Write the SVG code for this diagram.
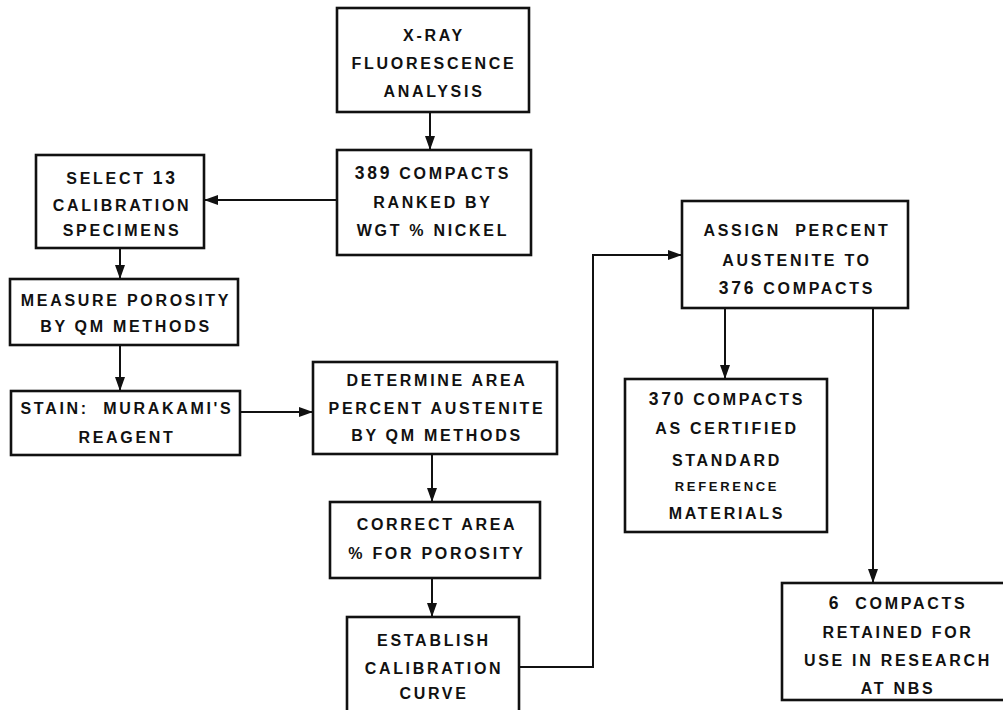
<svg xmlns="http://www.w3.org/2000/svg" width="1003" height="710" viewBox="0 0 1003 710">
<style>
.box{fill:#fff;stroke:#111;stroke-width:2.6}
.ln{fill:none;stroke:#111;stroke-width:2}
text{font-family:"Liberation Sans",Arial,sans-serif;font-size:16px;font-weight:bold;fill:#111;text-anchor:middle;letter-spacing:2.7px}
.n{font-size:17.5px}
.s{font-size:13px}
</style>
<defs>
<marker id="ah" markerWidth="14" markerHeight="10" refX="14" refY="5" orient="auto" markerUnits="userSpaceOnUse">
<path d="M0,0 L14,5 L0,10 Z" fill="#111"/>
</marker>
</defs>
<rect width="1003" height="710" fill="#fff"/>
<g id="connectors">
<line class="ln" x1="430" y1="112" x2="430" y2="150" marker-end="url(#ah)"/>
<line class="ln" x1="337" y1="200" x2="204" y2="200" marker-end="url(#ah)"/>
<line class="ln" x1="120" y1="248" x2="120" y2="279" marker-end="url(#ah)"/>
<line class="ln" x1="120" y1="345" x2="120" y2="391" marker-end="url(#ah)"/>
<line class="ln" x1="240" y1="412" x2="313" y2="412" marker-end="url(#ah)"/>
<line class="ln" x1="432" y1="454" x2="432" y2="502" marker-end="url(#ah)"/>
<line class="ln" x1="432" y1="578" x2="432" y2="617" marker-end="url(#ah)"/>
<polyline class="ln" points="519,667 593,667 593,255 682,255" marker-end="url(#ah)"/>
<line class="ln" x1="725" y1="308" x2="725" y2="379" marker-end="url(#ah)"/>
<line class="ln" x1="873" y1="308" x2="873" y2="583" marker-end="url(#ah)"/>
</g>
<g id="xray">
<rect class="box" x="337" y="8" width="192" height="104"/>
<text x="434" y="41">X-RAY</text>
<text x="434" y="69">FLUORESCENCE</text>
<text x="434" y="97">ANALYSIS</text>
</g>
<g id="ranked">
<rect class="box" x="337" y="150" width="194" height="105"/>
<text x="433" y="179"><tspan class="n">389</tspan> COMPACTS</text>
<text x="433" y="208">RANKED BY</text>
<text x="433" y="236">WGT % NICKEL</text>
</g>
<g id="select">
<rect class="box" x="36" y="155" width="168" height="93"/>
<text x="122" y="184">SELECT <tspan class="n">13</tspan></text>
<text x="122" y="211">CALIBRATION</text>
<text x="122" y="236">SPECIMENS</text>
</g>
<g id="measure">
<rect class="box" x="10" y="279" width="228" height="66"/>
<text x="126" y="306">MEASURE POROSITY</text>
<text x="126" y="332">BY QM METHODS</text>
</g>
<g id="stain">
<rect class="box" x="11" y="391" width="229" height="64"/>
<text x="127" y="414" xml:space="preserve">STAIN:  MURAKAMI'S</text>
<text x="127" y="443">REAGENT</text>
</g>
<g id="determine">
<rect class="box" x="313" y="362" width="244" height="92"/>
<text x="437" y="386">DETERMINE AREA</text>
<text x="437" y="414">PERCENT AUSTENITE</text>
<text x="437" y="441">BY QM METHODS</text>
</g>
<g id="correct">
<rect class="box" x="330" y="502" width="210" height="76"/>
<text x="437" y="530">CORRECT AREA</text>
<text x="437" y="559">% FOR POROSITY</text>
</g>
<g id="establish">
<rect class="box" x="347" y="617" width="172" height="100"/>
<text x="434" y="646">ESTABLISH</text>
<text x="434" y="674">CALIBRATION</text>
<text x="434" y="699">CURVE</text>
</g>
<g id="assign">
<rect class="box" x="682" y="201" width="226" height="107"/>
<text x="797" y="236" xml:space="preserve">ASSIGN  PERCENT</text>
<text x="797" y="266">AUSTENITE TO</text>
<text x="797" y="294"><tspan class="n">376</tspan> COMPACTS</text>
</g>
<g id="certified">
<rect class="box" x="625" y="379" width="202" height="153"/>
<text x="727" y="405"><tspan class="n">370</tspan> COMPACTS</text>
<text x="727" y="434">AS CERTIFIED</text>
<text x="727" y="466">STANDARD</text>
<text x="727" y="491" class="s">REFERENCE</text>
<text x="727" y="519">MATERIALS</text>
</g>
<g id="retained">
<rect class="box" x="782" y="583" width="240" height="117"/>
<text x="898" y="609" xml:space="preserve"><tspan class="n">6</tspan>  COMPACTS</text>
<text x="898" y="638">RETAINED FOR</text>
<text x="898" y="666">USE IN RESEARCH</text>
<text x="898" y="694">AT NBS</text>
</g>
</svg>
